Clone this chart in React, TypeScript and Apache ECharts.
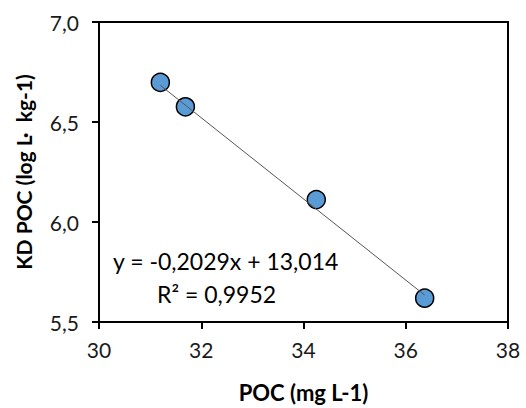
import React, { useEffect, useRef } from "react";
import * as echarts from "echarts";

const pocValues: number[] = [31.2, 31.69, 34.25, 36.37];
const kdValues: number[] = [6.698, 6.576, 6.112, 5.619];
const slope = -0.2029;
const intercept = 13.014;
const equationText = "y = -0,2029x + 13,014";
const r2Text = "R² = 0,9952";

const fmt = (v: number) => v.toFixed(1).replace(".", ",");

export default function App() {
  const ref = useRef<HTMLDivElement>(null);
  useEffect(() => {
    document.body.style.margin = "0";
    if (!ref.current) return;
    const chart = echarts.init(ref.current, undefined, { renderer: "svg" });
    const xMin = Math.min(...pocValues);
    const xMax = Math.max(...pocValues);
    const trend = [
      [xMin, slope * xMin + intercept],
      [xMax, slope * xMax + intercept],
    ];
    const font = "Lato";
    chart.setOption({
      animation: false,
      backgroundColor: "#ffffff",
      textStyle: { fontFamily: font },
      grid: { left: 99, right: 18, top: 22, bottom: 84, show: true, borderColor: "#000", borderWidth: 2, backgroundColor: "transparent" },
      xAxis: {
        type: "value",
        min: 30,
        max: 38,
        interval: 2,
        name: "POC (mg L-1)",
        nameLocation: "middle",
        nameGap: 59,
        nameTextStyle: { fontFamily: font, fontSize: 22, fontWeight: "bold", color: "#000" },
        axisLine: { show: true, onZero: false, lineStyle: { color: "#000", width: 2 } },
        axisTick: { show: true, inside: false, length: 7, lineStyle: { color: "#000", width: 2 } },
        axisLabel: { fontFamily: font, fontSize: 21, color: "#1a1a1a", margin: 17 },
        splitLine: { show: false },
      },
      yAxis: {
        type: "value",
        min: 5.5,
        max: 7.0,
        interval: 0.5,
        name: "KD POC (log L·\u00a0\u00a0kg-1)",
        nameLocation: "middle",
        nameGap: 65,
        nameRotate: 90,
        nameTextStyle: { fontFamily: font, fontSize: 21, fontWeight: "bold", color: "#000" },
        axisLine: { show: true, onZero: false, lineStyle: { color: "#000", width: 2 } },
        axisTick: { show: true, inside: false, length: 7, lineStyle: { color: "#000", width: 2 } },
        axisLabel: { fontFamily: font, fontSize: 21, color: "#1a1a1a", margin: 20, formatter: (v: number) => fmt(v) },
        splitLine: { show: false },
      },
      series: [
        {
          type: "scatter",
          data: pocValues.map((x, i) => [x, kdValues[i]]),
          symbol: "circle",
          symbolSize: 18,
          itemStyle: { color: "#5b9bd5", borderColor: "#000", borderWidth: 1.5, opacity: 1 },
          z: 2,
        },
        {
          type: "line",
          data: trend,
          symbol: "none",
          lineStyle: { color: "#555", width: 1 },
          z: 3,
        },
      ],
      graphic: [
        {
          type: "text",
          left: 113,
          top: 249,
          style: { text: equationText, fontFamily: font, fontSize: 23, fill: "#000" },
        },
        {
          type: "text",
          left: 157,
          top: 282,
          style: { text: r2Text, fontFamily: font, fontSize: 23, fill: "#000" },
        },
      ],
    });
    return () => chart.dispose();
  }, []);
  return <div ref={ref} style={{ width: 526, height: 408 }} />;
}
